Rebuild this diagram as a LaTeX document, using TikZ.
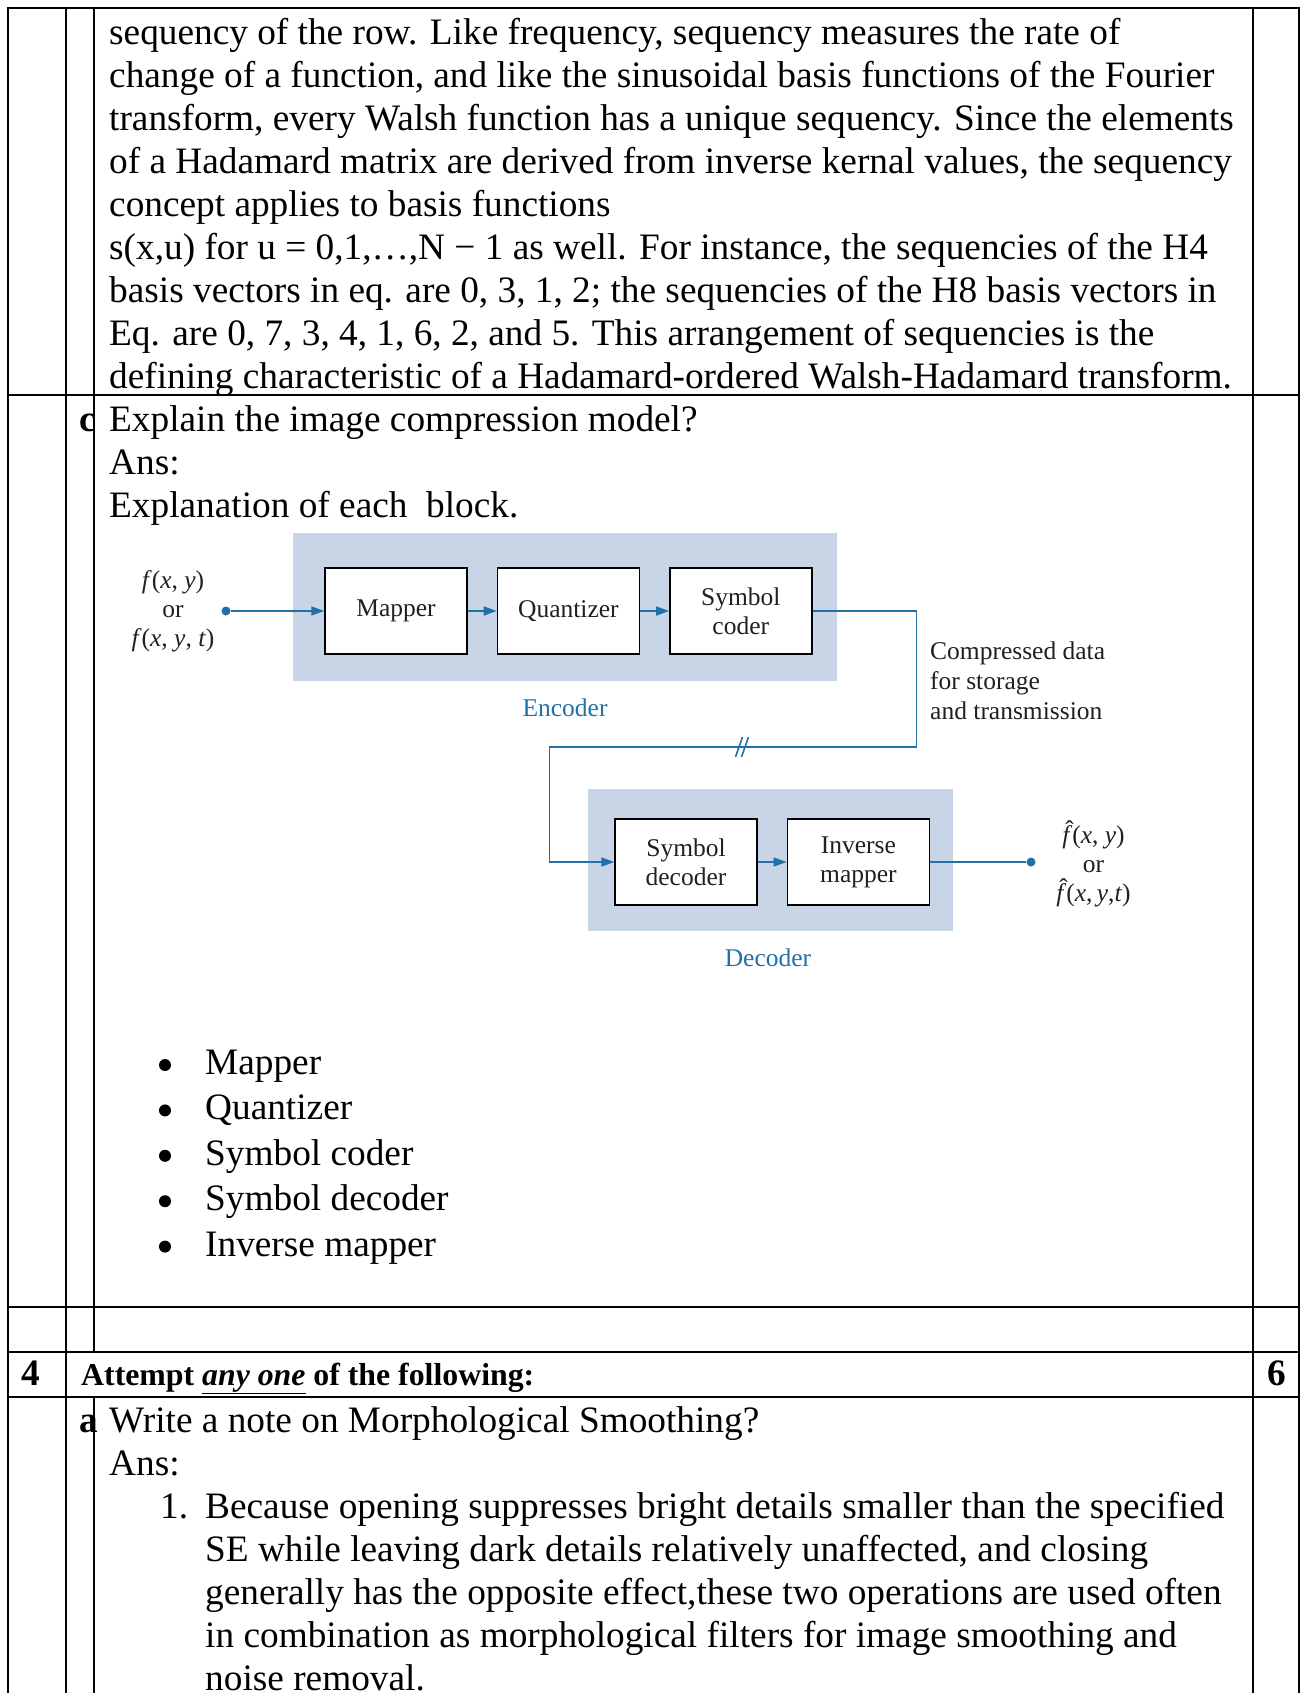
\documentclass[tikz,border=0pt]{standalone}
\usepackage{fontspec}
\setmainfont{Liberation Serif}
\usetikzlibrary{positioning,arrows.meta}
\definecolor{FlowBlue}{HTML}{2171A8}
\definecolor{PanelBlue}{HTML}{C8D5E7}
\definecolor{LabelInk}{HTML}{231F20}

\newcommand{\bodysize}{\fontsize{37.3}{43}\selectfont}
\newcommand{\headsize}{\fontsize{31.8}{37}\selectfont}
\newcommand{\figsize}{\fontsize{25.5}{29}\selectfont}
% estimate f with a circumflex on top
\newcommand{\fest}{\rlap{\kern0.12em\raisebox{0.2em}{ˆ}}\textit{f}}

\begin{document}
\begin{tikzpicture}[x=1pt,y=-1pt,
  every node/.style={inner sep=0pt},
  body/.style={font=\bodysize, anchor=base west},
  head/.style={font=\headsize\bfseries, anchor=base west},
  qlet/.style={font=\bodysize\bfseries, anchor=base west},
  num/.style={font=\bodysize\bfseries, anchor=base},
  tbl/.style={line width=2.2pt, line cap=rect},
  blk/.style={draw=black, line width=1.4pt, fill=white, minimum width=142pt,
              minimum height=86pt, align=center, font=\figsize, text=LabelInk},
  panel/.style={fill=PanelBlue, draw=none},
  lbl/.style={font=\figsize, align=center, text=LabelInk},
  grouplbl/.style={font=\figsize, text=FlowBlue},
  dot/.style={circle, fill=FlowBlue, minimum size=9pt},
  ln/.style={draw=FlowBlue, line width=1.6pt},
  ar/.style={ln, -{Triangle[length=13pt,width=9pt]}},
]
  \useasboundingbox (0,0) rectangle (1303,1693);

  % table rules
  \foreach \y in {8,395,1307,1352,1397}
    \draw[tbl] (8,\y) -- (1299,\y);
  \foreach \x in {8,66,1253,1299}
    \draw[tbl] (\x,8) -- (\x,1693);
  \draw[tbl] (94,8) -- (94,1352);
  \draw[tbl] (94,1397) -- (94,1693);

  % previous answer, continued
  \foreach \rowtext [count=\i from 0] in {
      {sequency of the row. Like frequency, sequency measures the rate of},
      {change of a function, and like the sinusoidal basis functions of the Fourier},
      {transform, every Walsh function has a unique sequency. Since the elements},
      {of a Hadamard matrix are derived from inverse kernal values, the sequency},
      {concept applies to basis functions},
      {s(x,u) for u = 0,1,…,N − 1 as well. For instance, the sequencies of the H4},
      {basis vectors in eq. are 0, 3, 1, 2; the sequencies of the H8 basis vectors in},
      {Eq. are 0, 7, 3, 4, 1, 6, 2, and 5. This arrangement of sequencies is the},
      {defining characteristic of a Hadamard-ordered Walsh-Hadamard transform.}}
    \node[body] (seq\i) at (109,44.5+43*\i) {\rowtext};

  % question c
  \node[qlet] (qc) at (79,431.5) {c};
  \node[body] (qctext) at (109,431.5) {Explain the image compression model?};
  \node[body] (qcans) at (109,474.5) {Ans:};
  \node[body] (qcexpl) at (109,517.5) {Explanation of each\ \ block.};

  % encoder / decoder panels
  \node[panel, minimum width=544pt, minimum height=148pt] (encbox) at (565,607) {};
  \node[panel, minimum width=365pt, minimum height=142pt] (decbox) at (770.5,860) {};

  \node[blk] (mapper) at (396,611) {Mapper};
  \node[blk, right=29pt of mapper] (quant) {Quantizer};
  \node[blk, right=29pt of quant] (scoder) {Symbol\\coder};
  \node[blk] (sdec) at (686,862) {Symbol\\decoder};
  \node[blk, right=29pt of sdec] (invmap) {Inverse\\mapper};

  \node[dot] (src) at (226,611) {};
  \node[dot] (sink) at (1031,862) {};
  \coordinate (brk) at (741,747);

  \node[lbl] (fin) at (173,611)
    {\textit{f}(\textit{x}, \textit{y})\\or\\\textit{f}(\textit{x}, \textit{y}, \textit{t})};
  \node[lbl] (fout) at (1093.5,864)
    {\fest(\textit{x}, \textit{y})\\or\\\fest(\textit{x},\,\textit{y},\textit{t})};
  \node[lbl, align=left, anchor=west, font=\fontsize{25.5}{30}\selectfont] (cdata) at (930,681)
    {Compressed data\\for storage\\and transmission};
  \node[grouplbl] (enc) at (565,708) {Encoder};
  \node[grouplbl] (dec) at (768,958) {Decoder};

  % signal path
  \draw[ar] (src) -- (mapper);
  \draw[ar] (mapper) -- (quant);
  \draw[ar] (quant) -- (scoder);
  \draw[ar] (scoder.east) -- ++(104,0) |- (brk) -| ([xshift=-65pt]sdec.west) -- (sdec.west);
  \draw[ln] ([shift={(-5.5,10)}]brk) -- ++(7,-20);
  \draw[ln] ([shift={(0.5,10)}]brk) -- ++(7,-20);
  \draw[ar] (sdec) -- (invmap);
  \draw[ln] (invmap) -- (sink);

  % block list
  \foreach \rowtext [count=\i from 0] in {Mapper,Quantizer,Symbol coder,Symbol decoder,Inverse mapper}{
    \fill (165,1065+45.4*\i) circle (6pt);
    \node[body] (item\i) at (205,1074.5+45.4*\i) {\rowtext};
  }

  % question 4
  \node[num] (qnum) at (31,1385) {4};
  \node[head] (qhead) at (81,1385) {Attempt \underline{\textit{any one}} of the following:};
  \node[num] (qmarks) at (1276.5,1385) {6};

  % question a
  \node[qlet] (qa) at (79,1432) {a};
  \node[body] (qatext) at (109,1432) {Write a note on Morphological Smoothing?};
  \node[body] (qaans) at (109,1475.5) {Ans:};
  \node[body] (qaone) at (160,1518.5) {1.};
  \foreach \rowtext [count=\i from 0] in {
      {Because opening suppresses bright details smaller than the specified},
      {SE while leaving dark details relatively unaffected, and closing},
      {generally has the opposite effect,these two operations are used often},
      {in combination as morphological filters for image smoothing and},
      {noise removal.}}
    \node[body] (smooth\i) at (205,1518.5+43*\i) {\rowtext};
\end{tikzpicture}
\end{document}
